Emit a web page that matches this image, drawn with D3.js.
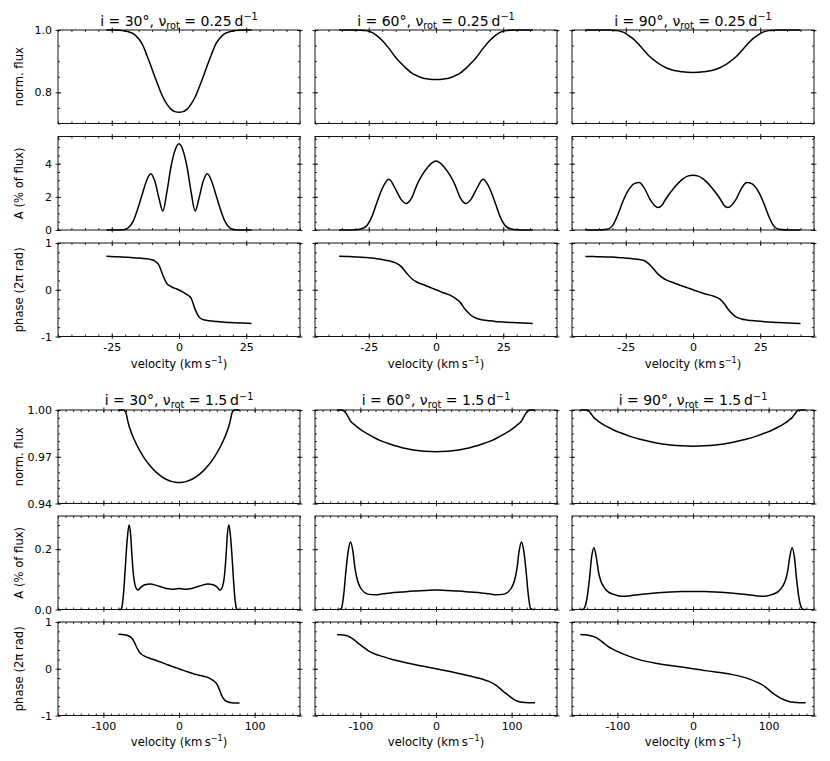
<!DOCTYPE html>
<html><head><meta charset="utf-8">
<script src="https://cdn.jsdelivr.net/npm/d3@7"></script>
<style>
body{margin:0;background:#fff;}
svg text{font-family:"DejaVu Sans",sans-serif;fill:#000;}
</style></head>
<body><svg id="c" width="830" height="761"></svg>
<script>
// ---------- data: top block (nu_rot = 0.25 d^-1) ----------
const velT1 = [-27,-24,-21,-19,-17,-15,-13.5,-12,-10.5,-9,-7.5,-6,-4.5,-3,-1.5,0,1.5,3,4.5,6,7.5,9,10.5,12,13.5,15,17,19,21,24,27];
const fluxT1 = [1.0,0.9997,0.998,0.995,0.988,0.972,0.952,0.92,0.886,0.85,0.816,0.785,0.762,0.746,0.738,0.736,0.738,0.746,0.762,0.785,0.816,0.85,0.886,0.92,0.952,0.972,0.988,0.995,0.998,0.9997,1.0];
const ampT1 = [0,0,0.01,0.12,0.55,1.45,2.25,3.0,3.4,2.95,1.95,1.15,2.3,3.8,4.8,5.2,4.8,3.8,2.3,1.15,1.95,2.95,3.4,3.0,2.25,1.45,0.55,0.12,0.01,0,0];
const phaseT1 = [0.715,0.708,0.70,0.693,0.686,0.678,0.67,0.662,0.645,0.615,0.53,0.31,0.13,0.07,0.03,-0.005,-0.05,-0.105,-0.18,-0.42,-0.585,-0.64,-0.658,-0.67,-0.678,-0.686,-0.695,-0.70,-0.706,-0.713,-0.72];

const velT2 = [-36,-33,-30,-28,-26,-24,-22,-20,-17.5,-15,-13,-11,-9,-7,-5,-3,-1.5,0,1.5,3,5,7,9,11,13,15,17.5,20,22,24,26,28,30,33,36];
const fluxT2 = [1.0,1.0,0.9998,0.9995,0.998,0.993,0.982,0.966,0.941,0.912,0.893,0.876,0.862,0.853,0.846,0.843,0.8415,0.841,0.8415,0.843,0.846,0.853,0.862,0.876,0.893,0.912,0.941,0.966,0.982,0.993,0.998,0.9995,0.9998,1.0,1.0];
const ampT2 = [0,0,0.01,0.06,0.22,0.75,1.65,2.5,3.06,2.45,1.85,1.6,1.95,2.75,3.35,3.8,4.05,4.16,4.05,3.8,3.35,2.75,1.95,1.6,1.85,2.45,3.06,2.5,1.65,0.75,0.22,0.06,0.01,0,0];
const phaseT2 = [0.715,0.71,0.703,0.697,0.69,0.678,0.663,0.645,0.62,0.575,0.5,0.36,0.235,0.16,0.115,0.07,0.035,0,-0.035,-0.07,-0.11,-0.175,-0.27,-0.43,-0.545,-0.61,-0.645,-0.665,-0.678,-0.686,-0.693,-0.70,-0.705,-0.713,-0.72];

const velT3 = [-40,-36,-32,-30,-28,-26,-24,-22,-20,-18,-16,-13,-11.5,-10,-7,-4,-2,0,2,4,7,10,11.5,13,16,18,20,22,24,26,28,30,32,36,40];
const fluxT3 = [1.0,1.0,0.9998,0.9995,0.998,0.993,0.983,0.970,0.952,0.933,0.914,0.894,0.886,0.879,0.870,0.866,0.8645,0.864,0.8645,0.866,0.870,0.879,0.886,0.894,0.914,0.933,0.952,0.970,0.983,0.993,0.998,0.9995,0.9998,1.0,1.0];
const ampT3 = [0,0,0.05,0.25,0.9,1.75,2.4,2.78,2.86,2.5,1.85,1.36,1.5,1.9,2.55,3.05,3.25,3.3,3.25,3.05,2.55,1.9,1.5,1.36,1.85,2.5,2.86,2.78,2.4,1.75,0.9,0.25,0.05,0,0];
const phaseT3 = [0.712,0.708,0.703,0.698,0.692,0.684,0.672,0.66,0.645,0.62,0.53,0.335,0.265,0.21,0.145,0.08,0.04,0,-0.04,-0.08,-0.125,-0.2,-0.29,-0.41,-0.58,-0.625,-0.645,-0.66,-0.67,-0.68,-0.69,-0.697,-0.703,-0.712,-0.72];

// ---------- data: bottom block (nu_rot = 1.5 d^-1) ----------
const velB1 = [-80,-78,-76,-74,-72,-70,-68,-66,-64,-62,-60,-58,-56,-54,-50,-45,-38,-30,-22,-15,-10,-5,0,5,10,15,22,30,38,45,50,54,56,58,60,62,64,66,68,70,72,74,76,78,80];
const fluxB1 = [1.0,1.0,1.0,1.0,0.9995,0.998,0.9935,0.9897,0.9868,0.9842,0.9819,0.9797,0.9777,0.9758,0.9723,0.9685,0.9641,0.96,0.957,0.9551,0.9542,0.9537,0.9535,0.9537,0.9542,0.9551,0.957,0.96,0.9641,0.9685,0.9723,0.9758,0.9777,0.9797,0.9819,0.9842,0.9868,0.9897,0.9935,0.998,0.9995,1.0,1.0,1.0,1.0];
const ampB1 = [0,0,0.004,0.035,0.1,0.18,0.245,0.28,0.25,0.17,0.11,0.08,0.068,0.065,0.075,0.082,0.0845,0.08,0.074,0.069,0.067,0.068,0.07,0.068,0.067,0.069,0.074,0.08,0.0845,0.082,0.075,0.065,0.068,0.08,0.11,0.17,0.25,0.28,0.245,0.18,0.1,0.035,0.004,0,0];
const phaseB1 = [0.74,0.738,0.735,0.73,0.725,0.72,0.71,0.695,0.675,0.645,0.595,0.53,0.46,0.4,0.315,0.265,0.22,0.178,0.13,0.085,0.056,0.028,0,-0.03,-0.06,-0.085,-0.12,-0.15,-0.185,-0.25,-0.325,-0.47,-0.55,-0.62,-0.665,-0.69,-0.705,-0.715,-0.722,-0.727,-0.73,-0.732,-0.734,-0.735,-0.735];

const velB2 = [-131,-128,-125,-122,-119,-116,-113,-110,-107,-104,-100,-95,-90,-80,-70,-60,-45,-30,-15,0,15,30,45,60,70,80,90,95,100,104,107,110,113,116,119,122,125,128,131];
const fluxB2 = [1.0,1.0,1.0,0.9995,0.998,0.9955,0.9929,0.9914,0.9902,0.989,0.9875,0.9859,0.9845,0.9819,0.9797,0.978,0.9758,0.9744,0.9735,0.9732,0.9735,0.9744,0.9758,0.978,0.9797,0.9819,0.9845,0.9859,0.9875,0.989,0.9902,0.9914,0.9929,0.9955,0.998,0.9995,1.0,1.0,1.0];
const ampB2 = [0,0,0.004,0.05,0.13,0.195,0.224,0.195,0.135,0.098,0.073,0.057,0.051,0.049,0.052,0.055,0.058,0.061,0.063,0.065,0.063,0.061,0.058,0.055,0.052,0.049,0.051,0.057,0.073,0.098,0.135,0.195,0.224,0.195,0.13,0.05,0.004,0,0];
const phaseB2 = [0.73,0.728,0.725,0.72,0.71,0.695,0.67,0.64,0.605,0.56,0.51,0.45,0.39,0.31,0.26,0.21,0.15,0.095,0.047,0,-0.05,-0.1,-0.155,-0.215,-0.27,-0.36,-0.5,-0.56,-0.625,-0.665,-0.69,-0.705,-0.715,-0.72,-0.724,-0.726,-0.727,-0.728,-0.728];

const velB3 = [-149,-146,-143,-140,-137,-134,-131,-128,-125,-122,-118,-113,-105,-95,-85,-70,-50,-30,-15,0,15,30,50,70,85,95,105,113,118,122,125,128,131,134,137,140,143,146,149];
const fluxB3 = [1.0,1.0,1.0,1.0,0.999,0.997,0.9951,0.9939,0.9927,0.9917,0.9905,0.9892,0.9872,0.9852,0.9834,0.9812,0.979,0.9776,0.977,0.9768,0.977,0.9776,0.979,0.9812,0.9834,0.9852,0.9872,0.9892,0.9905,0.9917,0.9927,0.9939,0.9951,0.997,0.999,1.0,1.0,1.0,1.0];
const ampB3 = [0,0,0.008,0.04,0.1,0.175,0.205,0.175,0.125,0.095,0.075,0.06,0.05,0.044,0.045,0.05,0.055,0.058,0.0595,0.06,0.0595,0.058,0.055,0.05,0.045,0.044,0.05,0.06,0.075,0.095,0.125,0.175,0.205,0.175,0.1,0.04,0.008,0,0];
const phaseB3 = [0.73,0.728,0.725,0.72,0.712,0.70,0.685,0.665,0.635,0.6,0.55,0.485,0.41,0.335,0.27,0.19,0.12,0.07,0.035,0,-0.035,-0.07,-0.12,-0.195,-0.29,-0.38,-0.515,-0.6,-0.645,-0.675,-0.69,-0.705,-0.713,-0.719,-0.722,-0.725,-0.727,-0.728,-0.728];

// ---------- labels / ticks ----------
const inclinations = ['30','60','90'];
const nuRot = ['0.25','1.5'];
const yLabels = ['norm. flux','A (% of flux)','phase (2π rad)'];
const xTicksTop = [-25,0,25];
const xTicksBot = [-100,0,100];
const yTicksTop = [[0.8,1.0],[0,2,4],[-1,0,1]];
const yTicksBot = [[0.94,0.97,1.0],[0.0,0.2],[-1,0,1]];

// ---------- layout ----------
const svg = d3.select('#c');
const FS_TICK = 11, FS_LAB = 11.6, FS_TITLE = 14;
const colLeft = [58,315,572], PW = 242, PH = 93.5;

const blocks = [
  { tops:[30,136.5,243], xDomain:[-45,45], xMaj:xTicksTop, xMin:d3.range(-45,45.01,5),
    titleY:25.5, xlabY:367.5, nu:nuRot[0],
    rows:[
      {dom:[0.7,1.0], maj:yTicksTop[0], min:d3.range(0.7,1.0001,0.05), fmt:d=>d.toFixed(1)},
      {dom:[0,5.64], maj:yTicksTop[1], min:d3.range(0,5.64,0.5), fmt:d=>String(d)},
      {dom:[-1,1], maj:yTicksTop[2], min:d3.range(-1,1.0001,0.2), fmt:d=>String(d)}
    ],
    cols:[[velT1,fluxT1,ampT1,phaseT1],[velT2,fluxT2,ampT2,phaseT2],[velT3,fluxT3,ampT3,phaseT3]] },
  { tops:[410,516,622], xDomain:[-160,160], xMaj:xTicksBot, xMin:d3.range(-160,160.01,10),
    titleY:405, xlabY:745.5, nu:nuRot[1],
    rows:[
      {dom:[0.94,1.0], maj:yTicksBot[0], min:d3.range(0.94,1.0001,0.005), fmt:d=>d.toFixed(2)},
      {dom:[0,0.31], maj:yTicksBot[1], min:d3.range(0,0.31,0.04), fmt:d=>d.toFixed(1)},
      {dom:[-1,1], maj:yTicksBot[2], min:d3.range(-1,1.0001,0.2), fmt:d=>String(d)}
    ],
    cols:[[velB1,fluxB1,ampB1,phaseB1],[velB2,fluxB2,ampB2,phaseB2],[velB3,fluxB3,ampB3,phaseB3]] }
];

function styleAxis(sel){
  sel.select('.domain').remove();
  sel.selectAll('line').attr('stroke','#111').attr('stroke-width',0.9);
  sel.selectAll('text').attr('font-size',FS_TICK).attr('font-family','DejaVu Sans').attr('fill','#000');
}

blocks.forEach((B,bi)=>{
  B.cols.forEach((C,ci)=>{
    const x0 = colLeft[ci];
    const x = d3.scaleLinear().domain(B.xDomain).range([0,PW]);
    // title
    const t = svg.append('text').attr('x',x0+PW/2).attr('y',B.titleY)
      .attr('text-anchor','middle').attr('font-size',FS_TITLE);
    t.append('tspan').text(`i = ${inclinations[ci]}°, ν`);
    t.append('tspan').attr('font-size',FS_TITLE*0.7).attr('dy',3).text('rot');
    t.append('tspan').attr('dy',-3).text(` = ${B.nu}\u2009d`);
    t.append('tspan').attr('font-size',FS_TITLE*0.7).attr('dy',-5.5).text('\u22121');

    B.rows.forEach((R,ri)=>{
      const y0 = B.tops[ri];
      const g = svg.append('g').attr('transform',`translate(${x0},${y0})`);
      const y = d3.scaleLinear().domain(R.dom).range([PH,0]);
      const last = ri===2;
      // minor ticks (inward), all four sides
      styleAxis(g.append('g').attr('transform',`translate(0,${PH})`).call(d3.axisBottom(x).tickValues(B.xMin).tickSize(-2).tickFormat('')));
      styleAxis(g.append('g').call(d3.axisTop(x).tickValues(B.xMin).tickSize(-2).tickFormat('')));
      styleAxis(g.append('g').call(d3.axisLeft(y).tickValues(R.min).tickSize(-2).tickFormat('')));
      styleAxis(g.append('g').attr('transform',`translate(${PW},0)`).call(d3.axisRight(y).tickValues(R.min).tickSize(-2).tickFormat('')));
      // major ticks inward
      styleAxis(g.append('g').attr('transform',`translate(0,${PH})`).call(d3.axisBottom(x).tickValues(B.xMaj).tickSize(-3).tickFormat('')));
      styleAxis(g.append('g').call(d3.axisTop(x).tickValues(B.xMaj).tickSize(-3).tickFormat('')));
      styleAxis(g.append('g').call(d3.axisLeft(y).tickValues(R.maj).tickSize(-3).tickFormat('')));
      styleAxis(g.append('g').attr('transform',`translate(${PW},0)`).call(d3.axisRight(y).tickValues(R.maj).tickSize(-3).tickFormat('')));
      // major ticks outward (+labels)
      styleAxis(g.append('g').attr('transform',`translate(0,${PH})`).call(d3.axisBottom(x).tickValues(B.xMaj).tickSize(2.5).tickPadding(4.5)
        .tickFormat(last ? (d=>String(d)) : '')));
      styleAxis(g.append('g').call(d3.axisTop(x).tickValues(B.xMaj).tickSize(2.5).tickFormat('')));
      styleAxis(g.append('g').call(d3.axisLeft(y).tickValues(R.maj).tickSize(2.5).tickPadding(3.5)
        .tickFormat(ci===0 ? R.fmt : '')));
      styleAxis(g.append('g').attr('transform',`translate(${PW},0)`).call(d3.axisRight(y).tickValues(R.maj).tickSize(2.5).tickFormat('')));
      // frame
      g.append('rect').attr('x',0).attr('y',0).attr('width',PW).attr('height',PH)
        .attr('fill','none').attr('stroke','#111').attr('stroke-width',1);
      // curve
      const vel = C[0], vals = C[ri+1];
      const line = d3.line().x((d,i)=>x(vel[i])).y(d=>y(d)).curve(d3.curveMonotoneX);
      g.append('path').datum(vals).attr('d',line).attr('fill','none')
        .attr('stroke','#000').attr('stroke-width',1.5).attr('stroke-linejoin','round');
      // y label
      if(ci===0){
        svg.append('text').attr('transform',`translate(22.5,${y0+PH/2}) rotate(-90)`)
          .attr('text-anchor','middle').attr('font-size',FS_LAB).text(yLabels[ri]);
      }
    });
    // x label
    const xl = svg.append('text').attr('x',x0+PW/2).attr('y',B.xlabY).attr('text-anchor','middle').attr('font-size',FS_LAB);
    xl.append('tspan').text('velocity (km\u2009s');
    xl.append('tspan').attr('font-size',FS_LAB*0.7).attr('dy',-4.5).text('\u22121');
    xl.append('tspan').attr('dy',4.5).text(')');
  });
});
</script>
</body></html>
